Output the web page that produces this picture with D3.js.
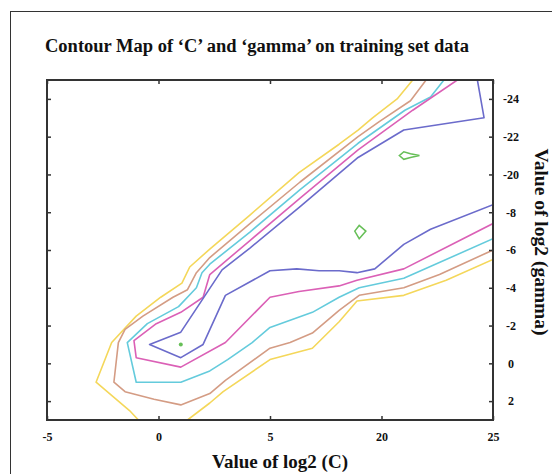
<!DOCTYPE html>
<html>
<head>
<meta charset="utf-8">
<script src="https://cdn.jsdelivr.net/npm/d3@7"></script>
<style>
  body { margin: 0; background: #fff; }
  svg text { font-family: "Liberation Serif", "Times New Roman", serif; font-weight: bold; fill: #111; }
</style>
</head>
<body>
<div id="chart"></div>
<script>
///////// data //////////

// tick positions and the labels printed at them
let x_tick_values = [-5, 0, 5, 10, 15];
let x_tick_labels = ["-5", "0", "5", "20", "25"];
let y_tick_values = [2, 0, -2, -4, -6, -8, -10, -12, -14];
let y_tick_labels = ["2", "0", "-2", "-4", "-6", "-8", "-20", "-22", "-24"];

// contour lines, vertices as [log2(C), log2(gamma)]
let yellow_upper = [[11.4,-15],[10.7,-14.0],[9.6,-13.0],[8.95,-12.35],[8.1,-11.6],[6.3,-10.1],[4.1,-7.85],[2.3,-6.05],
  [1.4,-5.1],[1.05,-4.25],[0.1,-3.5],[-1.0,-2.5],[-2.1,-1.1],[-2.8,1.0],[-1.3,2.5],[-0.9,3]];
let yellow_lower = [[1.3,3],[2.3,2.1],[2.9,1.5],[5.0,-0.2],[6.9,-0.8],[8.1,-2.2],[8.9,-3.3],[11.0,-3.6],[12.9,-4.4],[15,-5.5]];
let brown_line = [[12.0,-15],[11.3,-13.9],[9.9,-12.8],[8.95,-12.0],[6.35,-9.6],[4.1,-7.4],[2.3,-5.6],[1.7,-4.8],
  [1.3,-3.9],[0.65,-3.5],[-0.7,-2.5],[-1.5,-1.8],[-1.8,-1.1],[-2.0,1.0],[-1.5,1.5],[-0.2,1.9],[1.0,2.2],[2.3,1.6],
  [3.0,0.9],[5.0,-0.8],[5.9,-1.1],[6.9,-1.6],[8.1,-2.8],[9.0,-3.6],[11.0,-4.0],[12.6,-4.7],[15,-6.0]];
let cyan_line = [[12.8,-15],[12.2,-14.1],[11.05,-13.4],[8.95,-11.65],[6.35,-9.2],[4.1,-6.95],[2.3,-5.25],[1.95,-4.8],
  [1.7,-4.0],[0.9,-3.0],[-0.5,-2.1],[-1.4,-1.1],[-1.0,1.0],[1.0,1.0],[2.3,0.4],[3.1,-0.2],[4.2,-1.1],[5.0,-1.9],
  [6.9,-2.7],[8.1,-3.5],[9.0,-4.0],[11.0,-4.5],[15,-6.6]];
let magenta_line = [[13.4,-15],[11.4,-13.4],[8.95,-11.3],[6.35,-8.75],[4.1,-6.5],[2.3,-4.7],[2.0,-3.5],
  [1.0,-2.7],[-0.1,-2.1],[-1.1,-1.2],[-1.0,-0.3],[1.0,0.2],[3.0,-1.1],[5.0,-3.5],[6.3,-3.8],[8.1,-4.1],[8.9,-4.4],
  [11.0,-5.0],[15,-7.4]];
let blue_line = [[14.3,-15],[14.6,-13.0],[11.0,-12.35],[8.95,-10.9],[6.35,-8.3],[4.1,-6.1],[2.85,-4.95],
  [1.0,-1.65],[-0.4,-1.0],[1.0,-0.3],[2.0,-1.0],[3.0,-3.6],[5.0,-4.9],[6.2,-5.0],[7.2,-4.9],[8.1,-4.9],[8.9,-4.8],
  [9.7,-5.0],[11.0,-6.3],[12.2,-7.1],[15,-8.4]];

// small closed green contours and the single green point
let green_leaf = [[10.8,-11.0],[11.0,-11.2],[11.3,-11.1],[11.7,-11.0],[11.3,-10.9],[11.0,-10.8]];
let green_diamond = [[8.8,-7.0],[9.0,-7.3],[9.3,-7.0],[9.0,-6.6]];
let green_point = [1.0, -1.0];

let open_lines = [yellow_upper, yellow_lower, brown_line, cyan_line, magenta_line, blue_line];
let open_line_colors = ["#f4d75a", "#f4d75a", "#d49c84", "#64cbdc", "#db60b6", "#6b6bcb"];
let closed_lines = [green_leaf, green_diamond];
let green_color = "#66bf57";

////////////////////// drawing //////////////////////
function draw_contour_chart() {
  var W = 552, H = 474;
  var plot = {left: 47, top: 80, right: 493, bottom: 420};

  var svg = d3.select("#chart")
    .append("svg")
    .attr("width", W)
    .attr("height", H);

  // frame round the whole figure
  svg.append("rect")
    .attr("x", 10.5).attr("y", 11.5)
    .attr("width", 600).attr("height", 600)
    .attr("fill", "none")
    .attr("stroke", "#333")
    .attr("stroke-width", 1);

  svg.append("text")
    .attr("x", 45).attr("y", 52)
    .style("font-size", "18.5px")
    .text("Contour Map of \u2018C\u2019 and \u2018gamma\u2019 on training set data");

  var x = d3.scaleLinear().domain([-5, 15]).range([plot.left, plot.right]);
  var y = d3.scaleLinear().domain([3, -15]).range([plot.bottom, plot.top]);

  svg.append("clipPath").attr("id", "plot-clip")
    .append("rect")
    .attr("x", plot.left).attr("y", plot.top)
    .attr("width", plot.right - plot.left).attr("height", plot.bottom - plot.top);

  var g = svg.append("g").attr("clip-path", "url(#plot-clip)");

  var line = d3.line().x(d => x(d[0])).y(d => y(d[1]));
  var closed = d3.line().x(d => x(d[0])).y(d => y(d[1])).curve(d3.curveLinearClosed);

  g.selectAll("path.level")
    .data(open_lines)
    .enter()
    .append("path")
    .attr("class", "level")
    .attr("d", line)
    .attr("fill", "none")
    .attr("stroke", (d, i) => open_line_colors[i])
    .attr("stroke-width", 1.6)
    .attr("stroke-linejoin", "round");

  g.selectAll("path.island")
    .data(closed_lines)
    .enter()
    .append("path")
    .attr("class", "island")
    .attr("d", closed)
    .attr("fill", "none")
    .attr("stroke", green_color)
    .attr("stroke-width", 1.5);

  g.append("circle")
    .attr("cx", x(green_point[0]))
    .attr("cy", y(green_point[1]))
    .attr("r", 2)
    .attr("fill", green_color);

  // axes: inward ticks on all four sides
  var bottom_axis = svg.append("g")
    .attr("transform", "translate(0," + plot.bottom + ")")
    .call(d3.axisBottom(x).tickValues(x_tick_values)
      .tickFormat((d, i) => x_tick_labels[i]).tickSize(-4).tickPadding(12));
  var top_axis = svg.append("g")
    .attr("transform", "translate(0," + plot.top + ")")
    .call(d3.axisTop(x).tickValues(x_tick_values).tickFormat("").tickSize(-4));
  var left_axis = svg.append("g")
    .attr("transform", "translate(" + plot.left + ",0)")
    .call(d3.axisLeft(y).tickValues(y_tick_values).tickFormat("").tickSize(-4));
  var right_axis = svg.append("g")
    .attr("transform", "translate(" + plot.right + ",0)")
    .call(d3.axisRight(y).tickValues(y_tick_values)
      .tickFormat((d, i) => y_tick_labels[i]).tickSize(-4));

  for (let ax of [bottom_axis, top_axis, left_axis, right_axis]) {
    ax.select(".domain").remove();
    ax.selectAll(".tick line").attr("stroke", "#333").attr("stroke-width", 1.5);
    ax.selectAll("text")
      .style("font-size", "12px")
      .style("font-family", "'Liberation Serif', serif")
      .attr("fill", "#111");
  }
  right_axis.selectAll("text").attr("x", 18).attr("text-anchor", "middle");

  svg.append("rect")
    .attr("x", plot.left).attr("y", plot.top)
    .attr("width", plot.right - plot.left).attr("height", plot.bottom - plot.top)
    .attr("fill", "none")
    .attr("stroke", "#333")
    .attr("stroke-width", 2);

  // axis titles
  svg.append("text")
    .attr("x", 280).attr("y", 468)
    .attr("text-anchor", "middle")
    .style("font-size", "19px")
    .text("Value of log2 (C)");

  svg.append("text")
    .attr("transform", "translate(535,242) rotate(90)")
    .attr("text-anchor", "middle")
    .style("font-size", "19.5px")
    .text("Value of log2 (gamma)");
}

draw_contour_chart();
</script>
</body>
</html>
